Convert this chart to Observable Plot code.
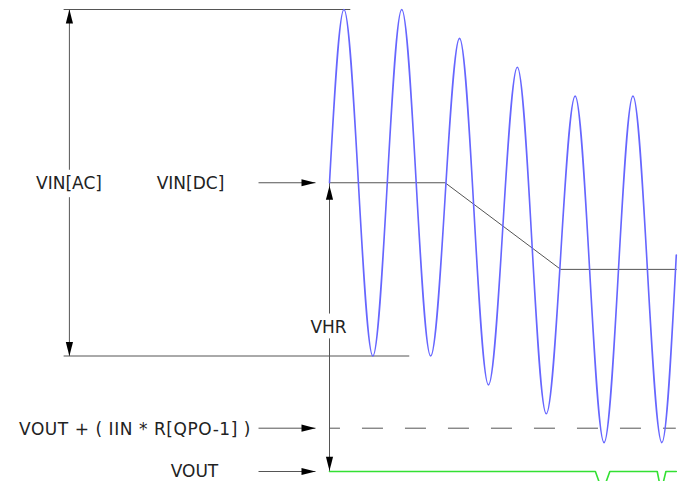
<!DOCTYPE html>
<html>
<head>
<meta charset="utf-8">
<script src="https://cdn.jsdelivr.net/npm/d3@7"></script>
<script src="https://cdn.jsdelivr.net/npm/@observablehq/plot@0.6"></script>
<style>
  html, body { margin: 0; padding: 0; background: #fff; }
  #chart svg { display: block; }
</style>
</head>
<body>
<div id="chart"></div>
<script>
// ---- data (time in input cycles, voltage in arbitrary diagram units) ----
const waveT = [0, 0.25, 0.75, 1.25, 1.75, 2.25, 2.75, 3.25, 3.75, 4.25, 4.75, 5.25, 5.75, 6];
const waveV = [10, 16, 4, 16, 4, 15, 3, 14, 2, 13, 1, 13, 1, 7.5];
const dcT = [0, 2, 4, 6];
const dcV = [10, 10, 7, 7];
const voutT = [0, 4.60, 4.69, 4.76, 4.85, 5.67, 5.72, 5.76, 5.82, 6];
const voutV = [0, 0, -0.5, -0.5, 0, 0, -0.5, -0.5, 0, 0];
const levelNames = ["vinPeak", "vinDC", "vinTrough", "threshold", "vout"];
const levelValues = [16, 10, 4, 1.5, 0];
const labels = ["VIN[AC]", "VIN[DC]", "VHR", "VOUT + ( IIN * R[QPO-1] )", "VOUT"];

// ---- build tables ----
const L = Object.fromEntries(levelNames.map((n, i) => [n, levelValues[i]]));
const wave = waveT.map((t, i) => ({t, v: waveV[i]}));
const dc = dcT.map((t, i) => ({t, v: dcV[i]}));
const vout = voutT.map((t, i) => ({t, v: voutV[i]}));

// ---- layout (annotation placement in scale units) ----
const arrowX1 = -1.228, arrowTip = -0.242;
const acX = -4.5, lineLeft = -4.6;
const segments = [
  {x1: lineLeft, y1: L.vinPeak, x2: 0.36, y2: L.vinPeak},
  {x1: lineLeft, y1: L.vinTrough, x2: 1.38, y2: L.vinTrough},
  {x1: acX, y1: L.vinPeak, x2: acX, y2: 10.45},
  {x1: acX, y1: 9.5, x2: acX, y2: L.vinTrough},
  {x1: 0, y1: L.vinDC, x2: 0, y2: 5.47},
  {x1: 0, y1: 4.61, x2: 0, y2: L.vout},
  {x1: arrowX1, y1: L.vinDC, x2: arrowTip, y2: L.vinDC},
  {x1: arrowX1, y1: L.threshold, x2: arrowTip, y2: L.threshold},
  {x1: arrowX1, y1: L.vout, x2: arrowTip, y2: L.vout}
];
const heads = [
  {x: acX, y: L.vinPeak, r: -90},
  {x: acX, y: L.vinTrough, r: 90},
  {x: 0, y: 9.9, r: -90},
  {x: 0, y: 0.03, r: 90},
  {x: arrowTip, y: L.vinDC, r: 0},
  {x: arrowTip, y: L.threshold, r: 0},
  {x: arrowTip, y: L.vout, r: 0}
];
const labelPos = [
  {x: -4.507, y: 9.97, ls: 0},
  {x: -2.405, y: 9.97, ls: 0},
  {x: -0.017, y: 4.98, ls: 0},
  {x: -3.365, y: 1.45, ls: 0.55},
  {x: -2.336, y: 0.0, ls: 0}
];
const labelRows = labels.map((text, i) => ({text, ...labelPos[i]}));

const arrowHead = {
  draw(context) {
    context.moveTo(0, 0);
    context.lineTo(-14, -3.6);
    context.lineTo(-14, 3.6);
    context.closePath();
  }
};

const spaced = (ls) => ({
  render(index, scales, values, dimensions, context, next) {
    const g = next(index, scales, values, dimensions, context);
    if (ls) g.setAttribute("letter-spacing", ls + "px");
    return g;
  }
});

const chart = Plot.plot({
  width: 684,
  height: 481,
  margin: 0,
  x: {domain: [0, 6], range: [329, 675.8], axis: null},
  y: {domain: [0, 16], range: [471, 9], axis: null},
  style: {background: "#fff", fontFamily: "Verdana, 'DejaVu Sans', sans-serif"},
  marks: [
    Plot.link(segments, {x1: "x1", y1: "y1", x2: "x2", y2: "y2", stroke: "#555", strokeWidth: 1}),
    Plot.ruleY([L.threshold], {x1: 0.017, x2: 6, stroke: "#555", strokeWidth: 1, strokeDasharray: "21,22", strokeDashoffset: 11}),
    Plot.line(dc, {x: "t", y: "v", stroke: "#555", strokeWidth: 1}),
    Plot.line(wave, {x: "t", y: "v", curve: "monotone-x", stroke: "#6666ff", strokeWidth: 1.6}),
    Plot.line(vout, {x: "t", y: "v", stroke: "#33e033", strokeWidth: 1.6}),
    Plot.dot(heads, {x: "x", y: "y", rotate: "r", symbol: arrowHead, fill: "#000", stroke: "none", r: 4}),
    ...labelRows.map(row => Plot.text([row], {x: "x", y: "y", text: "text", fontSize: 17, fill: "#222", textAnchor: "middle", lineAnchor: "middle", ...spaced(row.ls)}))
  ]
});
document.getElementById("chart").append(chart);
</script>
</body>
</html>
